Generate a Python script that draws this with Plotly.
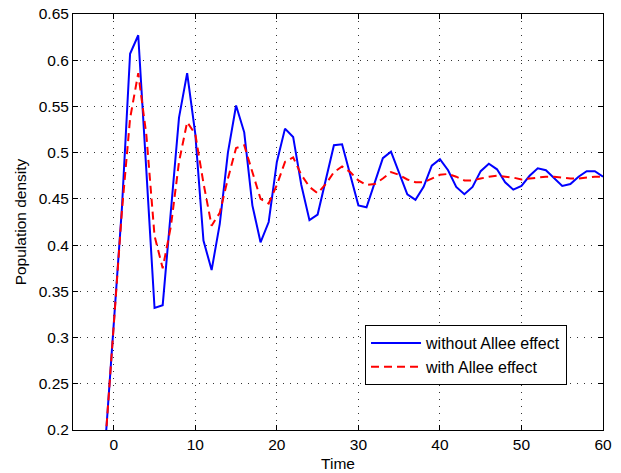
import plotly.graph_objects as go

time = list(range(-1, 61))
without_allee = [0.19, 0.315, 0.44, 0.607, 0.627, 0.48, 0.332, 0.335, 0.437, 0.538,
                 0.586, 0.52, 0.405, 0.373, 0.423, 0.50, 0.551, 0.522, 0.443, 0.403,
                 0.425, 0.49, 0.526, 0.517, 0.465, 0.427, 0.433, 0.47, 0.508, 0.509,
                 0.475, 0.443, 0.441, 0.468, 0.494, 0.501, 0.478, 0.455, 0.449, 0.463,
                 0.486, 0.493, 0.481, 0.463, 0.455, 0.463, 0.48, 0.488, 0.482, 0.468,
                 0.46, 0.464, 0.475, 0.483, 0.481, 0.472, 0.464, 0.466, 0.474, 0.48,
                 0.48, 0.474]
with_allee = [0.19, 0.315, 0.437, 0.537, 0.586, 0.519, 0.41, 0.375, 0.42, 0.49,
              0.533, 0.52, 0.467, 0.421, 0.435, 0.472, 0.505, 0.508, 0.48, 0.45,
              0.445, 0.465, 0.49, 0.495, 0.476, 0.463, 0.456, 0.466, 0.479, 0.485,
              0.479, 0.47, 0.465, 0.466, 0.472, 0.479, 0.476, 0.471, 0.468, 0.468,
              0.472, 0.476, 0.477, 0.474, 0.47, 0.47, 0.472, 0.474, 0.475, 0.474,
              0.473, 0.471, 0.472, 0.473, 0.474, 0.474, 0.473, 0.472, 0.472, 0.473,
              0.474, 0.474]

x_ticks = [0, 10, 20, 30, 40, 50, 60]
y_ticks = [0.2, 0.25, 0.3, 0.35, 0.4, 0.45, 0.5, 0.55, 0.6, 0.65]
y_labels = ["0.2", "0.25", "0.3", "0.35", "0.4", "0.45", "0.5", "0.55", "0.6", "0.65"]

FONT = "Liberation Sans, Arial, sans-serif"

fig = go.Figure()
fig.add_trace(go.Scatter(x=time, y=without_allee, mode="lines",
                         name="without Allee effect",
                         line=dict(color="#0000ff", width=2)))
fig.add_trace(go.Scatter(x=time, y=with_allee, mode="lines",
                         name="with Allee effect",
                         line=dict(color="#ff0000", width=2, dash="8px,5px")))

axis_common = dict(showline=True, mirror="ticks", linecolor="black", linewidth=1,
                   ticks="inside", ticklen=5, tickcolor="black",
                   showgrid=True, gridcolor="rgba(0,0,0,0.8)", griddash="1px,6px",
                   gridwidth=1, zeroline=False, automargin=False,
                   ticklabeloverflow="allow",
                   tickfont=dict(family=FONT, size=15.5, color="black"))

fig.update_xaxes(range=[-5, 60], tickvals=x_ticks,
                 title=dict(text="Time", standoff=6,
                            font=dict(family=FONT, size=15.5, color="black")),
                 **axis_common)
fig.update_yaxes(range=[0.2, 0.65], tickvals=y_ticks, ticktext=y_labels,
                 title=dict(text="Population density", standoff=8,
                            font=dict(family=FONT, size=15.5, color="black")),
                 **axis_common)

fig.update_layout(
    width=621, height=473,
    margin=dict(l=73, r=18, t=14, b=43),
    plot_bgcolor="white", paper_bgcolor="white",
    showlegend=True,
    legend=dict(x=0.551, y=0.252, xanchor="left", yanchor="top",
                bgcolor="white", bordercolor="black", borderwidth=1,
                font=dict(family=FONT, size=16, color="black"),
                itemwidth=50, tracegroupgap=0),
)

# remove the browser's default 8px body margin so the figure fills the window
fig.write_html("out.html", config={"displayModeBar": False},
               post_script="document.body.style.margin='0';")
